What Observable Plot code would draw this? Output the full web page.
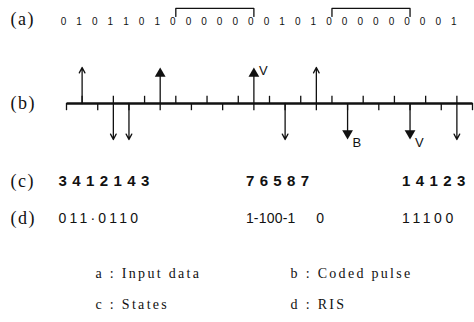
<!DOCTYPE html>
<html><head><meta charset="utf-8">
<script src="https://cdn.jsdelivr.net/npm/d3@7"></script>
<script src="https://cdn.jsdelivr.net/npm/@observablehq/plot@0.6"></script>
<style>
body{margin:0;background:#fff;}
#chart svg{display:block;background:#fff;}
</style></head><body><div id="chart"></div>
<script>
// ---- data ----
const bits = [0,1,0,1,1,0,1,0,0,0,0,0,0,0,1,0,1,0,0,0,0,0,0,0,0,1];
const slotCount = 27;
const bracketFrom = [7, 17];
const bracketTo = [12, 22];
const pulseSlot = [1,3,4,6,12,14,16,18,22,25];
const pulsePolarity = [1,-1,-1,1,1,-1,1,-1,-1,-1];
const pulseHead = ["open","open","open","filled","filled","open","open","filled","filled","open"];
const pulseTag = ["","","","","V","","","B","V",""];
const stateGroups = ["3412143","76587","14123"];
const stateStart = [0,12,22];
const risGroups = ["011·0110","1-100-1","0","11100"];
const risStart = [0,12,16.5,22];
const rowLabels = ["(a)","(b)","(c)","(d)"];
const legendKeys = ["a","b","c","d"];
const legendNames = ["Input data","Coded pulse","States","RIS"];

// ---- layout (amplitude units on y) ----
const ROW_Y = {a: 2.33, b: 0.02, c: -2.17, d: -3.19};
const BITS_Y = 2.28, BR_TOP = 2.64, BR_LEG = 2.42;
const LEG_X = [1.86, 14.35], LEG_Y = [-4.72, -5.58];
const RIS_SPACING = [3.2, 0.2, 0, 3.6];
const SANS = "'Liberation Sans', Arial, sans-serif";
const SERIF = "'Liberation Serif', 'Times New Roman', serif";

const pulses = pulseSlot.map((s, i) => ({slot: s, pol: pulsePolarity[i], head: pulseHead[i], tag: pulseTag[i]}));
const bracketPts = bracketFrom.flatMap((a, i) => {
  const b = bracketTo[i];
  return [{x: a, y: BR_LEG, z: i}, {x: a, y: BR_TOP, z: i}, {x: b, y: BR_TOP, z: i}, {x: b, y: BR_LEG, z: i}];
});
const slots = d3.range(slotCount);

const chart = Plot.plot({
  width: 474, height: 322,
  margin: 0,
  x: {domain: [0, slotCount - 1], range: [66, 472], axis: null},
  y: {domain: [-1, 1], range: [139, 67], axis: null},
  marks: [
    Plot.line(bracketPts, {x: "x", y: "y", z: "z", stroke: "#111", strokeWidth: 1.3}),
    Plot.text(bits, {x: (d, i) => i, y: () => BITS_Y, text: d => String(d), fontSize: 10, fontFamily: SANS, dx: -3, fill: "#111"}),
    Plot.ruleX(slots, {x: d => d, y1: () => 0, y2: d => (d % 2 ? 0.2 : -0.2), stroke: "#111", strokeWidth: 1.3}),
    Plot.link([0], {x1: () => 0, x2: () => slotCount - 1, y1: () => 0, y2: () => 0, stroke: "#111", strokeWidth: 2.4}),
    Plot.arrow(pulses.filter(p => p.head === "open"), {x1: "slot", x2: "slot", y1: () => 0, y2: "pol", headLength: 7, headAngle: 55, stroke: "#111", strokeWidth: 1.3}),
    Plot.link(pulses.filter(p => p.head === "filled"), {x1: "slot", x2: "slot", y1: () => 0, y2: p => p.pol * 0.83, stroke: "#111", strokeWidth: 1.3}),
    Plot.dot(pulses.filter(p => p.head === "filled"), {x: "slot", y: p => p.pol * 0.83, symbol: "triangle", r: 4, fill: "#111", stroke: "none", rotate: p => (p.pol > 0 ? 0 : 180)}),
    Plot.text(pulses.filter(p => p.tag), {x: "slot", y: p => (p.pol > 0 ? 0.92 : -1.08), text: "tag", textAnchor: "start", dx: 5, fontSize: 13, fontFamily: SANS, fill: "#111"}),
    Plot.text(rowLabels, {frameAnchor: "left", y: d => ROW_Y[d[1]], text: d => d, textAnchor: "start", dx: 10, fontSize: 18, fontFamily: SERIF, fill: "#111", ariaDescription: "rowlabels"}),
    Plot.text(stateGroups, {x: (d, i) => stateStart[i], y: () => ROW_Y.c, text: d => d, textAnchor: "start", dx: -8, fontSize: 15, fontWeight: "bold", fontFamily: SANS, fill: "#111", ariaDescription: "states"}),
    Plot.text(risGroups, {x: (d, i) => risStart[i], y: () => ROW_Y.d, text: d => d, textAnchor: "start", dx: -8, fontSize: 14, fontFamily: SANS, fill: "#111", ariaDescription: "ris"}),
    Plot.text(legendKeys, {x: (d, i) => LEG_X[i % 2], y: (d, i) => LEG_Y[Math.floor(i / 2)], text: (d, i) => d + " : " + legendNames[i], textAnchor: "start", fontSize: 14, fontFamily: SERIF, fill: "#111", ariaDescription: "legend"})
  ]
});
document.getElementById("chart").appendChild(chart);
const svg = d3.select(chart);
svg.selectAll('g[aria-description="rowlabels"] text').style("letter-spacing", "1.5px");
svg.selectAll('g[aria-description="states"] text').style("letter-spacing", "5.4px");
svg.selectAll('g[aria-description="ris"] text').style("letter-spacing", (d, i) => RIS_SPACING[i] + "px");
svg.selectAll('g[aria-description="legend"] text').style("letter-spacing", "2.3px");
</script></body></html>
